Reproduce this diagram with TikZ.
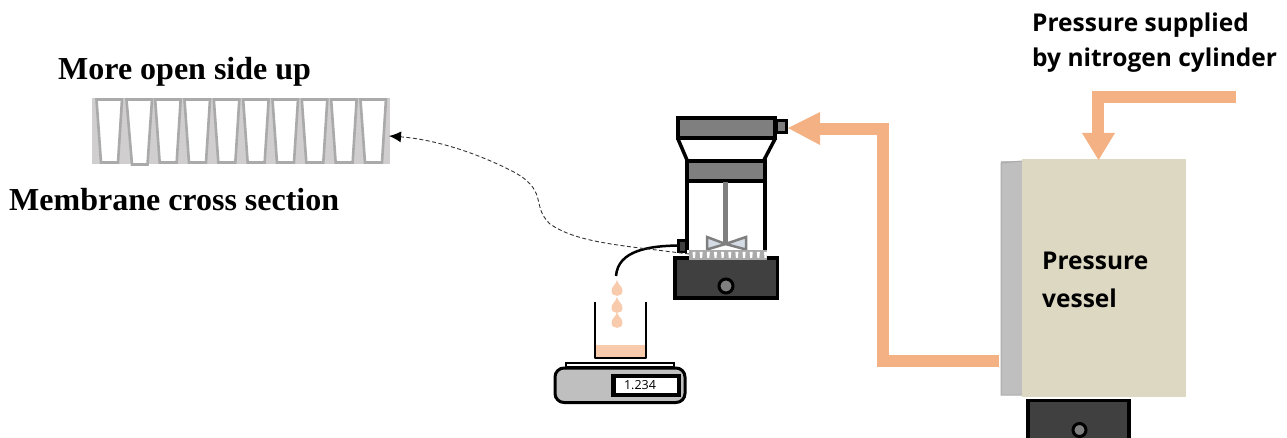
\documentclass[tikz,border=0pt]{standalone}
\usepackage{fontspec}
\setmainfont{Liberation Serif}
\newfontfamily\labelfont{Open Sans}
\usetikzlibrary{arrows.meta}
\definecolor{pipeC}{RGB}{244,177,131}
\definecolor{dropC}{RGB}{248,203,173}
\definecolor{vesselC}{RGB}{221,216,194}
\definecolor{sideC}{RGB}{191,191,191}
\definecolor{darkC}{RGB}{64,64,64}
\definecolor{midC}{RGB}{127,127,127}
\definecolor{memBg}{RGB}{208,206,206}
\definecolor{memLn}{RGB}{170,170,170}
\definecolor{bladeC}{RGB}{214,220,229}
\tikzset{
  x=1pt,y=-1pt,
  serifT/.style={font=\fontsize{32}{34}\selectfont\bfseries,inner sep=0,anchor=west},
  sansT/.style={font=\labelfont\fontsize{24.5}{35}\selectfont\bfseries,inner sep=0,anchor=west},
  pipe/.style={draw=pipeC,line width=11.5pt,line join=miter},
  pore/.style={draw=memLn,line width=2.6pt,fill=white},
  drop/.style={fill=dropC,draw=none},
}
\newcommand{\droplet}[2]{\fill[drop] (#1,#2-11) .. controls (#1+1,#2-6) and (#1+5.5,#2-5) .. (#1+5.5,#2) .. controls (#1+5.5,#2+6.5) and (#1-5.5,#2+6.5) .. (#1-5.5,#2) .. controls (#1-5.5,#2-5) and (#1-1,#2-6) .. (#1,#2-11) -- cycle;}
\begin{document}
\begin{tikzpicture}
\useasboundingbox (0,0) rectangle (1287,438);
% membrane
\fill[memBg] (92,98) rectangle (390,164);
\foreach \i in {0,2,3,4,5,6,7,8,9}{
  \draw[pore] (96.5+\i*29.33,99.5) -- (122+\i*29.33,99.5) -- (118+\i*29.33,162.5) -- (101+\i*29.33,162.5) -- cycle;
}
\draw[pore] (126.5,99.5) -- (152,99.5) -- (147.5,164.5) -- (132,164.5) -- cycle;
\coordinate (memR) at (389,136);
% vessel
\fill[sideC] (1001,161) rectangle (1022,395);
\draw[memLn,line width=1pt] (1022,161) -- (1001,163) -- (1001,395) -- (1022,395);
\fill[vesselC] (1022,159) rectangle (1186,397);
% stand under vessel
\fill[darkC,draw=black,line width=3.5pt] (1028,438) -- (1028,400.5) -- (1129,400.5) -- (1129,438);
\draw[black,line width=3pt,fill=midC] (1079.5,430) circle (6.5);
% labels
\node[serifT] (t1) at (58,71.5) {More open side up};
\node[serifT] (t2) at (9,199.5) {Membrane cross section};
\node[sansT] (t3a) at (1032,25) {Pressure supplied};
\node[sansT] (t3b) at (1032,60) {by nitrogen cylinder};
\node[sansT] (t4a) at (1042,261) {Pressure};
\node[sansT] (t4b) at (1042,298) {vessel};
% top pipe
\coordinate (topS) at (1236,97);
\coordinate (topC) at (1098,97);
\coordinate (topE) at (1098,140);
\draw[pipe] (topS) -- (topC) -- (topE);
\fill[pipeC] (1082,133) -- (1115,133) -- (1098.5,160) -- cycle;
% main pipe
\coordinate (pipeS) at (999,361);
\coordinate (pipeA) at (883,361);
\coordinate (pipeB) at (883,129);
\coordinate (pipeE) at (815,129);
\draw[pipe] (pipeS) -- (pipeA) -- (pipeB) -- (pipeE);
\fill[pipeC] (788,128) -- (820,112) -- (820,145) -- cycle;
% cell top
\fill[midC,draw=black,line width=4pt] (678,118.5) rectangle (775,138);
\fill[midC,draw=black,line width=3pt] (776,121) rectangle (786.5,132.5);
\draw[black,line width=3.5pt] (678,139) -- (687,160);
\draw[black,line width=3.5pt] (775,139) -- (764,160);
\fill[midC,draw=black,line width=4pt] (687,161) rectangle (765,181);
\draw[black,line width=4pt] (687,181) -- (687,250);
\draw[black,line width=4pt] (765,181) -- (765,250);
% stirrer
\draw[midC,line width=5.5pt] (725.5,182) -- (725.5,243);
\draw[midC,line width=2.5pt,fill=bladeC] (707,237) -- (725.5,244) -- (707,249.5) -- cycle;
\draw[midC,line width=2.5pt,fill=bladeC] (746,237) -- (725.5,244) -- (746,249.5) -- cycle;
% base
\fill[darkC,draw=black,line width=3.5pt] (675,258) rectangle (777.5,298);
\draw[black,line width=3pt,fill=midC] (726,286) circle (7);
% membrane in cell
\fill[memLn] (689,250) rectangle (767,260.5);
\foreach \i in {0,...,10}{\fill[white] (692.5+\i*7.15,252) -- (695.5+\i*7.15,252) -- (695+\i*7.15,258) -- (693+\i*7.15,258) -- cycle;}
% outlet
\fill[darkC,draw=black,line width=2.5pt] (678.5,240.5) rectangle (686,252);
\coordinate (outL) at (678,245.5);
\coordinate (spout) at (616,276);
\draw[black,line width=2.5pt] (outL) .. controls (650,246) and (618,250) .. (spout);
% dashed connector
\coordinate (dashS) at (689,254);
\draw[black!80,line width=.9pt,dash pattern=on 4pt off 2.5pt,-{Latex[length=12pt,width=11pt,black]}] (dashS) -- (640,248) .. controls (600,243) and (570,238) .. (550,224) .. controls (530,205) and (550,190) .. (510,170) .. controls (470,150) and (430,139) .. (memR);
% drops
\droplet{617}{291}
\droplet{617}{308}
\droplet{617}{323}
% beaker
\fill[dropC] (596,345) rectangle (645,358);
\draw[black,line width=2.5pt,line join=round] (595,302) -- (595,358) -- (646,358) -- (646,302);
% balance
\draw[black,line width=2pt] (566,367) rectangle (674,363);
\fill[sideC,draw=black,line width=3pt,rounded corners=9pt] (555,368) rectangle (685,402.5);
\fill[white,draw=black,line width=4.5pt] (613.5,376) rectangle (679,395);
\node[inner sep=0,font=\labelfont\fontsize{12.5}{14}\selectfont] (bal) at (640,385.5) {1.234};
\end{tikzpicture}
\end{document}
